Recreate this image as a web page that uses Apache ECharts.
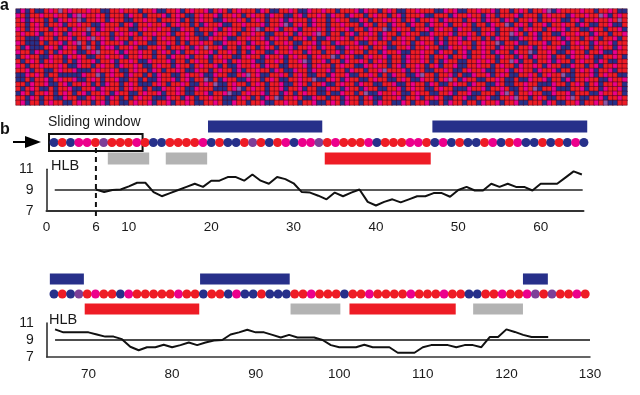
<!DOCTYPE html>
<html>
<head>
<meta charset="utf-8">
<style>
  html, body { margin: 0; padding: 0; background: #fff; }
  #chart { width: 640px; height: 395px; }
</style>
<script src="https://cdn.jsdelivr.net/npm/echarts@6/dist/echarts.min.js"></script>
</head>
<body>
<div id="chart"></div>
<script>
// panel a: one string per row, r red, m pink, b blue, p purple
var matrixRows = [
  "bmbrbbrmrp rmrrrmrrbb rrmrrrbrrm bbrrmbrmrr mbrmrbrmrr rbmrbbrrmr bbmrrmrrbr rrmbmrrbrm rbbrrmrrrb bmrmbbrrmr rmbrrbrmrb rrmpbmrrrr mrrbrrmrbb",
  "mrbrrmrrmr rbmpmrrmrb rrrbmrrbrr rmbrmrbbrm rrmbrrmrbr mrrbmrrbbr mbrrmrbmrr bmrrbrmrrb rmbrrrmbbr rrbmrrmrrb mrbrrrmbrr rbrmrrrbmr rmrrpmbrmr",
  "rmbmrrbrbm rmrpbrrmrb mrrbbrrmrr brrrmbrbrm rrbbmrrmrb rmrbrrmbmr rrbmrrbrmr rbbmrbrrmr mrbrmbrrmr bmrrrbrmrb mrrbmrbrrm rbrrmrbbrm brrmrrmrpr",
  "rrbrmrbrrm brrmrrbbmr rrbrmbrrmr rmbrmrrbrb mrrmbbrrmr rrmbrrmpbr mrbmrrbrrm rrrbmrbrrb mrrbmrrbmr rmbrrmrbrr bmrrpbrmrb rrmbrrmrrb mrbbrrmbbr",
  "mrbrmrrbmr rbmrrprbmr rmrrbbrmrr mrrbbmrrbr rrmbrmrrbr mpbrrmbrrm brrrmrbmrr mbrrbmrrpb rmrrbrrmbr mrrbmrrbbr rmbrrrmbrm rrbrmrmbrr bbmrrbrrmb",
  "rmrrmbrrmr bmrrmbrmrr brmrmrbrrm rrmbrrmrbb rbmrrmrbrr mrrbbrrmrb mrrmprbrrb rmbrrmrbmr rbrmrrbbmr rrmbrrmrbr mrbrrpmrbr mbrrbbmrrm rrbmrrbrrm",
  "rrbbbmrrbr rmbrrmprmr bmrrbrrmrb rmrrbrmrrb bmrrmbbrrm rrmbrmrrbr rmbrbbmrrm rbrrmrrbmr brmrrbrrmb rbrrmbmrrb rbmrrbbmrr mbrrrmbmrr brmrbrrmbr",
  "mrbbbrbrrm brmprbrbmr rrmbrmrrbb rrmrbrbrrm rrbbmrrmrb mrrmbrrmrb brrmbrrbmr rrmbbrmrrb rrmrbrmrrb mbrrmrrbrm rrpbrrmbbr rrmbrrmbrm rrbmrrmbrr",
  "rbmbbbrmrb mrrbrprbrm mbrrmrbbrr mrbrrmrbmr prrmbrrbrm rbrmrbrrmb rrmrbmrrbb mrrmrbrrmb brrmbrrmrr bbmrrmrbrm rrbmrrbrrm brmrrmbbrr mrbrmrrbmr",
  "mrrbmrbrbm rrmbbrmprr rmbmrrmrrb rmrbmbrrmr rmbrrmrbrb mrrbbmrrmr rbmrrbrrmb rmrrbrrbmr rmbbrrmrrb mrrbrmbrrm rbmrrbmrrp brrmrbbrmr rbrrmbbmrr",
  "brmrrbbmrr bmrmrbbrrm rrmbrrmrrb rrbmrrmbrr mbrmrrbbrm rrbmrrmbrm rrbrmrrpbr mrbbrmrrmb rrbmrrmrbr rmbrrmbrrm rrbmrrbmrb mrrmbrrbmr rmrbbrrmrb",
  "rbrmrbrmrr brbmrrmbrr mbrrmrbbmr rrmbrrbrmr rbrrmbrmrr mbbrrmrbrr mpbrrmbrrb mrrmrbrmrb rrbmrrmrbr bmrrbbrrmr mrbrrpmbrr brrmbmrrbr mrrbmrbbrr",
  "mrbrrmrrrm rbbmrrbrmr rbmrrmrbbr mrrbmrrbrm rrmbrbbmrr mrbmrrbbrr rmbrmrrbrm rrbbmrmrrb rmbrrmrbrm brrmbbrrmr rbrmrrbmrr mrbmrrbbmr rbrmbrrmrr",
  "rrmbrrbbrm rrmbbbrmrr mrbbrmrrbm rbrrmrbbmr rbrmrrbmbr rmrrbmrbbm rrbmrrmbrr bmrrbrrmpr rrmbrmrbbr rmrbbrmrrm bbrrmbrmrr bmrrmbrrbr mrmbrrmbrr",
  "bbmrmrbrrb bbbbmrrpbr mrrbmrrbrb mrrbbrmrrm bbmrrbbrmp rmbbrrmrbr mrbbrrbmrr mbbrrmrbrb mrrbbmprrb rrmbrbbmrr mbrmrbbrrm rbrmrrpbbr rrmbrmrrbb",
  "bbrbrrmbrm rrmbbrmrbr rmbbrrbrbb mrrmbrmbrr pbrbmrrbbm rrbrmrbbrr mrrpbbrmrb mrrbbrmrrb brmrbbmrrb rmprbmrrbb rrmrbbrbbm rrmbrrbmbr rmrrbbmrrm",
  "rrbmrrmbbr mbrrmrbrbm rrbrmrbbbr mrbrrmrbbr mrpbbrmrrb rmrbrrmbbr mrbrrmbbrm rrbmrrbbrr mbbrmrrbmr bbrmrrbmrr bbmrbbrrmr rbbbmrrbrm rbrmbrrmrb",
  "rbrmrbbrbr rmbbrrmbmr rrbrmrrbrb bmrrmrbbmr rrbbbrmpbr mrrbrrmbrr mbrrbbmrrb mrrbmrrbbr rmbrmrrbbr mrrbbbmrrm brrmrbbrmr pbrrmbbbrr mbrrbmrrmb",
  "bmrbrrmrbr mrbrmbrrmr bmrrbbrmrr mbrrmrbbrr mbrrmpbbrm rrmbrrbmrb rmrrbbrbbm rrbrpbbmrr mrbbrmrrbb rrmbrrmbbr rrbmprbrrm rrbbmrrmbr rrbbmrrmrb",
  "rrbmrbrrbb mrrbbrmrrb mrbrbrmrrb bbmrrbmrbr rmrrbbbrmr brbmrpbrrm rbbmrrbrrb mrrbrmbbrr rmbrrmbrrm rbbrrmbbrr mbbrrmprrb rmrbbrrmpr bbrrmbrrmr",
  "rmbrrbrmrr bbrmrrbrmb rrbbrmrrmb rrmbrrmrbb rrmrbbmrrb rrmbbrrmrr brrmbbrmrb mrrbrrbmrr bbmrbrrmbb rbmrrbrrbm rrmbrrmbbr rrbmrbbrrm brrmrpbbrr"
];
// panel b, first row of the sequence: residues 1 to 65
var seqColors1 = "brbmmrprrr" + "mrbbrrrrmb" + "rbbrprbrmb" + "mmprmrrrmb" + "rrrmmrbmbr" + "bbrmbrmbbr" + "brbmb";
// second row: residues 66 to 130
var seqColors2 = "brbprmrrbm" + "rrrrrmrrbr" + "rbmbbrbbbr" + "rmrrrbrrmr" + "rrrmrrrmrr" + "bbrrmrrmpr" + "prrmrm";
seqColors2 = seqColors2.slice(0, 65);

var hlb1 = [[6,9.05],[7,8.8],[8,9],[9,9.05],[10,9.35],[11,9.7],[12,9.7],[13,8.8],[14,8.4],[15,8.7],[16,9],[17,9.3],[18,9.6],[19,9.3],[20,9.9],[21,9.9],[22,10.25],[23,10.25],[24,9.9],[25,10.5],[26,9.9],[27,9.6],[28,10.25],[29,10.05],[30,9.65],[31,8.8],[32,8.75],[33,8.45],[34,8.1],[35,8.75],[36,8.4],[37,8.75],[38,9.05],[39,7.85],[40,7.5],[41,7.85],[42,8.1],[43,7.8],[44,8.1],[45,8.4],[46,8.4],[47,8.7],[48,8.7],[49,8.35],[50,9],[51,9.3],[52,8.95],[53,8.95],[54,9.6],[55,9.3],[56,9.6],[57,9.3],[58,9.3],[59,8.95],[60,9.6],[61,9.6],[62,9.6],[63,10.2],[64,10.8],[65,10.5]];
var hlb2 = [[66,10.25],[67,9.9],[68,9.9],[69,9.9],[70,9.9],[71,9.65],[72,9.4],[73,9.4],[74,9.1],[75,8.2],[76,7.8],[77,8.15],[78,8.15],[79,8.45],[80,8.15],[81,8.4],[82,8.7],[83,8.4],[84,8.7],[85,8.95],[86,9],[87,9.65],[88,9.9],[89,10.2],[90,9.9],[91,9.9],[92,9.6],[93,9.3],[94,9.6],[95,9.3],[96,9.3],[97,9.3],[98,9],[99,8.4],[100,8.15],[101,8.15],[102,8.15],[103,8.45],[104,8.15],[105,8.15],[106,8.15],[107,7.5],[108,7.5],[109,7.5],[110,8.15],[111,8.4],[112,8.4],[113,8.4],[114,8.15],[115,8.4],[116,8.4],[117,8.15],[118,9.35],[119,9.35],[120,10.25],[121,9.95],[122,9.6],[123,9.35],[124,9.35],[125,9.35]];
var refLine1 = [[1,9],[65.1,9]];
var refLine2 = [[66,9],[130,9]];

var blueSegs1 = [[19.6,33.4],[46.7,65.4]];
var graySegs1 = [[7.5,12.5],[14.5,19.5]];
var redSegs1 = [[33.7,46.5]];
var blueSegs2 = [[65.5,69.6],[83.6,94.4],[122.5,125.5]];
var graySegs2 = [[94.5,100.5],[116.5,122.5]];
var redSegs2 = [[69.7,83.5],[101.6,114.4]];
var slidingWindow = [0.4, 11.7];
var windowResidue = [[6, 13.06, 6.39]];

var ticks1 = [0,6,10,20,30,40,50,60];
var ticks2 = [70,80,90,100,110,120,130];

var RED = "#ee1c25", PINK = "#ec008c", BLUE = "#27308a", PURPLE = "#7d3f98", GRAY = "#b3b3b3";
var colorOf = { r: RED, m: PINK, b: BLUE, p: PURPLE };
var codeOf = { r: 0, m: 1, b: 2, p: 3 };
var TXT = "#1a1a1a", FONT = "Liberation Sans";

var cells = [];
matrixRows.forEach(function (row, y) {
  row.replace(/ /g, "").split("").slice(0, 130).forEach(function (c, x) {
    cells.push([x, 20 - y, codeOf[c]]);
  });
});

function seqPoints(str, start) {
  return str.split("").map(function (c, i) {
    return { value: [start + i, 1], itemStyle: { color: colorOf[c], opacity: 1 } };
  });
}

// rectangles on a track, from residue to residue
function segSeries(axis, segs, band, color) {
  return {
    type: "custom",
    xAxisIndex: axis, yAxisIndex: axis,
    encode: { x: [0, 1], y: 2 },
    data: segs.map(function (s) { return [s[0], s[1], band]; }),
    renderItem: function (params, api) {
      var a = api.coord([api.value(0), api.value(2)]);
      var b = api.coord([api.value(1), api.value(2)]);
      var h = api.size([0, 1])[1] * 0.74;
      return { type: "rect", shape: { x: a[0], y: a[1] - h / 2, width: b[0] - a[0], height: h }, style: { fill: color } };
    }
  };
}

function hlbAxisY(idx, width) {
  return {
    gridIndex: idx, type: "value", min: 7, max: 11, interval: 2,
    axisLine: { show: true, lineStyle: { color: "#222", width: width } },
    axisTick: { show: false }, splitLine: { show: false },
    axisLabel: { color: TXT, fontFamily: FONT, fontSize: 14, margin: 13 }
  };
}
function hlbAxisX(idx, min, max, ticks, width) {
  return {
    gridIndex: idx, type: "value", min: min, max: max,
    axisLine: { show: true, onZero: false, lineStyle: { color: "#333", width: width } },
    axisTick: { show: false }, splitLine: { show: false },
    axisLabel: { customValues: ticks, color: TXT, fontFamily: FONT, fontSize: 13.5, margin: 10, showMinLabel: true, showMaxLabel: true }
  };
}
function trackX(idx, min, max) {
  return { gridIndex: idx, type: "value", min: min, max: max, show: false };
}
function trackY(idx) {
  return { gridIndex: idx, type: "category", data: ["lower", "seq", "upper"], show: false };
}

var option = {
  animation: false,
  backgroundColor: "#fff",
  visualMap: {
    show: false, type: "piecewise", seriesIndex: 0, dimension: 2,
    pieces: [
      { value: 0, color: RED }, { value: 1, color: PINK },
      { value: 2, color: BLUE }, { value: 3, color: "#8a5aa8" }
    ]
  },
  grid: [
    { left: 16, top: 9, width: 611, height: 96 },
    { left: 45.7, top: 118.5, width: 546.5, height: 48 },
    { left: 46.5, top: 169.3, width: 537, height: 41.4 },
    { left: 45.7, top: 271.5, width: 547.8, height: 45 },
    { left: 46.7, top: 323, width: 543.3, height: 34 }
  ],
  xAxis: [
    { gridIndex: 0, type: "category", show: false, data: matrixRows[0].replace(/ /g, "").split("").map(function (c, i) { return i; }) },
    trackX(1, 0, 66),
    hlbAxisX(2, 0, 65.2, ticks1, 2),
    trackX(3, 65, 131),
    hlbAxisX(4, 65, 130, ticks2, 1.5)
  ],
  yAxis: [
    { gridIndex: 0, type: "category", show: false, data: matrixRows.map(function (r, i) { return i; }) },
    trackY(1),
    hlbAxisY(2, 1.5),
    trackY(3),
    hlbAxisY(4, 1.5)
  ],
  series: [
    { type: "heatmap", xAxisIndex: 0, yAxisIndex: 0, data: cells,
      itemStyle: { borderColor: "rgba(70,0,30,0.5)", borderWidth: 1 } },
    segSeries(1, blueSegs1, 2, BLUE),
    segSeries(1, graySegs1, 0, GRAY),
    segSeries(1, redSegs1, 0, RED),
    { type: "scatter", xAxisIndex: 1, yAxisIndex: 1, symbolSize: 9, data: seqPoints(seqColors1, 1) },
    { type: "custom", xAxisIndex: 1, yAxisIndex: 1, data: [[slidingWindow[0], slidingWindow[1], 1]], encode: { x: [0, 1], y: 2 },
      renderItem: function (params, api) {
        var a = api.coord([api.value(0), api.value(2)]);
        var b = api.coord([api.value(1), api.value(2)]);
        var h = api.size([0, 1])[1] * 1.06;
        return { type: "rect", shape: { x: a[0], y: a[1] - h / 2, width: b[0] - a[0], height: h }, style: { fill: null, stroke: "#111", lineWidth: 2 } };
      } },
    { type: "line", xAxisIndex: 2, yAxisIndex: 2, data: refLine1, showSymbol: false, lineStyle: { color: "#222", width: 1.3 } },
    { type: "line", xAxisIndex: 2, yAxisIndex: 2, data: hlb1, showSymbol: false, lineStyle: { color: "#111", width: 2 } },
    { type: "custom", xAxisIndex: 2, yAxisIndex: 2, data: windowResidue, encode: { x: 0, y: [1, 2] },
      renderItem: function (params, api) {
        var a = api.coord([api.value(0), api.value(1)]);
        var b = api.coord([api.value(0), api.value(2)]);
        return { type: "line", shape: { x1: a[0], y1: a[1], x2: b[0], y2: b[1] }, style: { stroke: "#111", lineWidth: 2, lineDash: [5, 4] } };
      } },
    segSeries(3, blueSegs2, 2, BLUE),
    segSeries(3, graySegs2, 0, GRAY),
    segSeries(3, redSegs2, 0, RED),
    { type: "scatter", xAxisIndex: 3, yAxisIndex: 3, symbolSize: 9, data: seqPoints(seqColors2, 66) },
    { type: "line", xAxisIndex: 4, yAxisIndex: 4, data: refLine2, showSymbol: false, lineStyle: { color: "#111", width: 1.3 } },
    { type: "line", xAxisIndex: 4, yAxisIndex: 4, data: hlb2, showSymbol: false, lineStyle: { color: "#111", width: 2 } }
  ],
  graphic: [
    { type: "text", left: 0, top: -2, style: { text: "a", font: "bold 16px Liberation Sans", fill: "#111" } },
    { type: "text", left: 0, top: 122, style: { text: "b", font: "bold 16px Liberation Sans", fill: "#111" } },
    { type: "text", left: 48, top: 115, style: { text: "Sliding window", font: "14px Liberation Sans", fill: TXT } },
    { type: "text", left: 51, top: 158, style: { text: "HLB", font: "14.5px Liberation Sans", fill: TXT } },
    { type: "text", left: 49, top: 312, style: { text: "HLB", font: "14.5px Liberation Sans", fill: TXT } },
    { type: "line", shape: { x1: 13, y1: 142, x2: 30, y2: 142 }, style: { stroke: "#000", lineWidth: 2 } },
    { type: "polygon", shape: { points: [[25, 136], [41, 142], [25, 148]] }, style: { fill: "#000" } }
  ]
};

var myChart = echarts.init(document.getElementById("chart"));
myChart.setOption(option);
</script>
</body>
</html>
